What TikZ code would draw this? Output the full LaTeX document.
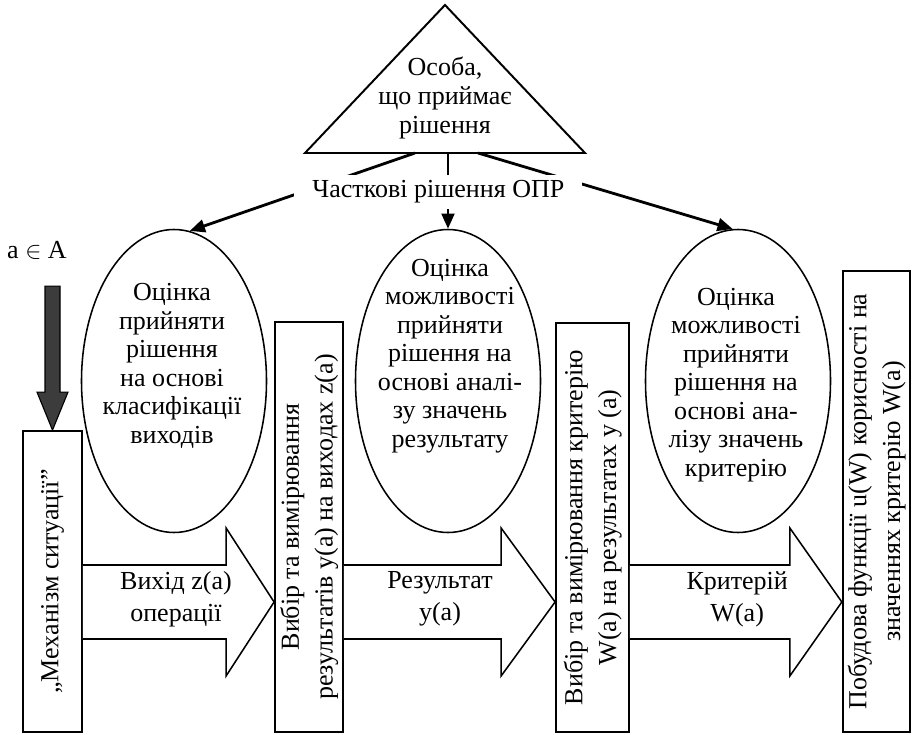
\documentclass[tikz,border=0pt]{standalone}
\usepackage{fontspec}
\setmainfont{Liberation Serif}
\usepackage{graphicx}
\usetikzlibrary{arrows.meta,shapes.geometric,calc}
\definecolor{arrowgray}{RGB}{60,60,60}

\begin{document}
\begin{tikzpicture}[every node/.style={font=\fontsize{18.5}{20.3}\selectfont, align=center, inner sep=0pt},
  oval/.style={draw, ellipse, line width=1.1pt, minimum width=4.625cm, minimum height=7.575cm},
  box/.style={draw, rectangle, line width=1.3pt, font=\fontsize{18.5}{24}\selectfont},
  conn/.style={line width=2pt, -{Triangle[length=0.38cm,width=0.32cm]}},
  bigarrow/.style={draw, line width=1.1pt, fill=white},
  lbl/.style={font=\fontsize{18.5}{22.7}\selectfont}]
\useasboundingbox (0,0) rectangle (22.825,18.35);

\coordinate (top) at (11.125,18.225);
\coordinate (bl) at (7.625,14.525);
\coordinate (br) at (14.625,14.525);
\draw[line width=1.4pt] (top) -- (bl) -- (br) -- cycle;
\node (dm) at (11.125,15.9) {Особа,\\що приймає\\рішення};

\node[oval] (e1) at (4.35,8.825) {};
\node[oval] (e2) at (11.2,8.825) {};
\node[oval] (e3) at (18.45,8.825) {};
\node (t1) at (4.3,9.2) {Оцінка\\прийняти\\рішення\\на основі\\класифікації\\виходів};
\node (t2) at (11.25,9.45) {Оцінка\\можливості\\прийняти\\рішення на\\основі аналі-\\зу значень\\результату};
\node (t3) at (18.4,8.725) {Оцінка\\можливості\\прийняти\\рішення на\\основі ана-\\лізу значень\\критерію};

\coordinate (b1) at (10.375,14.525);
\coordinate (b3) at (11.95,14.525);
\draw[conn] (b1) -- (e1.84);
\draw[conn] (e2.north |- bl) -- (e2.north);
\draw[conn] (b3) -- (e3.92);
\node[fill=white, inner xsep=0.45cm, inner ysep=0.15cm] (part) at (10.96,13.55) {Часткові рішення ОПР};

\node[box, minimum width=1.475cm, minimum height=7.525cm] (r1) at (1.3125,3.8125) {\rotatebox{90}{„Механізм ситуації”}};
\node[box, minimum width=1.7cm, minimum height=10.25cm] (r2) at (7.725,5.175) {\rotatebox{90}{\begin{tabular}{@{}c@{}}Вибір та вимірювання\\результатів y(a) на виходах z(a)\end{tabular}}};
\node[box, minimum width=1.825cm, minimum height=10.225cm] (r3) at (14.8125,5.1625) {\rotatebox{90}{\begin{tabular}{@{}c@{}}Вибір та вимірювання критерію\\W(a) на результатах y (a)\end{tabular}}};
\node[box, minimum width=1.675cm, minimum height=11.525cm] (r4) at (21.9125,5.8125) {\rotatebox{90}{\begin{tabular}{@{}c@{}}Побудова функції u(W) корисності на\\значеннях критерію W(a)\end{tabular}}};

\foreach \a/\b/\h in {r1/r2/1.2, r2/r3/1.35, r3/r4/1.3}
  \draw[bigarrow] (\a.east |- 0,4.225) -| ($(\b.west |- 0,5.15)+(-\h,0)$) -- (\b.west |- 0,3.3) -- ($(\b.west |- 0,1.45)+(-\h,0)$) |- (\a.east |- 0,2.375);

\node[lbl] (o1) at (4.4,3.375) {Вихід z(a)\\операції};
\node[lbl] (o2) at (11.0,3.375) {Результат\\y(a)};
\node[lbl] (o3) at (18.43,3.375) {Критерій\\W(a)};

\node (inp) at (0.925,12.1) {a $\in$ A};
\draw[fill=arrowgray, line width=0.8pt] (r1.north) -- ++(-0.3875,0.95) -- ++(0.2,0) -- ++(0,2.65) -- ++(0.375,0) -- ++(0,-2.65) -- ++(0.2,0) -- cycle;
\end{tikzpicture}
\end{document}
